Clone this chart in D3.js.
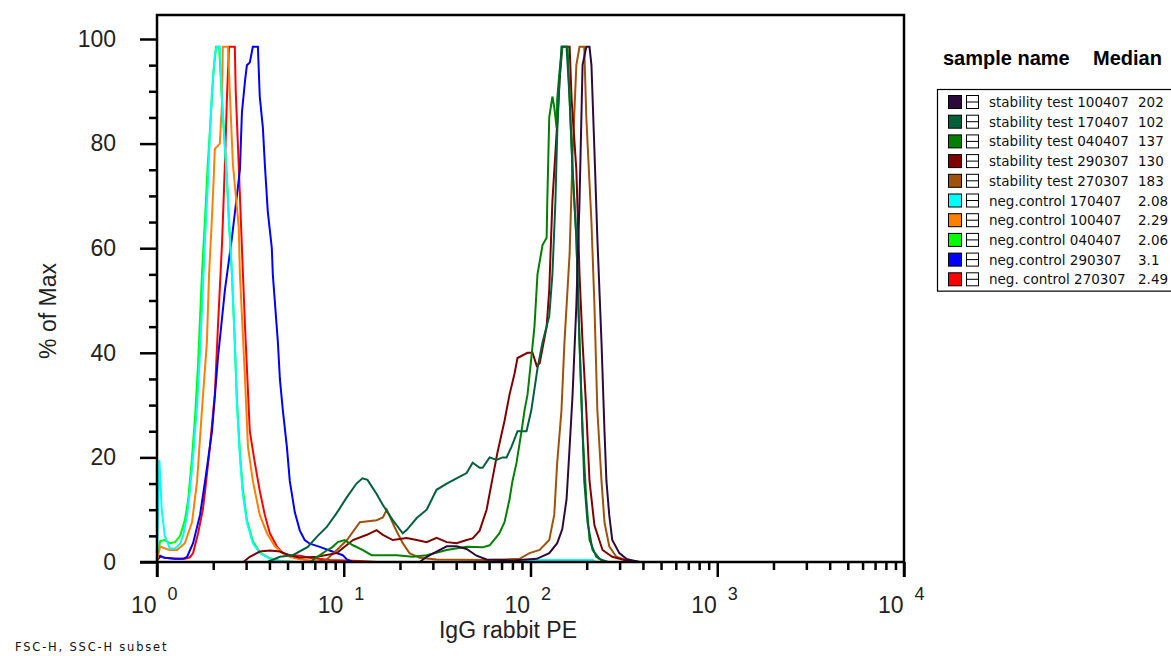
<!DOCTYPE html>
<html>
<head>
<meta charset="utf-8">
<script src="https://cdn.jsdelivr.net/npm/d3@7/dist/d3.min.js"></script>
<style>
body { margin: 0; background: #fff; }
svg { display: block; }
</style>
</head>
<body>
<script>
// legend rows, top to bottom (top row is drawn last, on top)
var sampleNames = ['stability test 100407', 'stability test 170407', 'stability test 040407',
    'stability test 290307', 'stability test 270307', 'neg.control 170407', 'neg.control 100407',
    'neg.control 040407', 'neg.control 290307', 'neg. control 270307'];
var medians = ['202', '102', '137', '130', '183', '2.08', '2.29', '2.06', '3.1', '2.49'];
var colors = ['#2e0a3c', '#00603c', '#008000', '#800000', '#a0520a',
    '#00ffff', '#ff8000', '#00ff00', '#0000ff', '#ff0000'];

var yTicks = [0, 20, 40, 60, 80, 100];
var yMinor = [5, 10, 15, 25, 30, 35, 45, 50, 55, 65, 70, 75, 85, 90, 95];
var xTicks = [1, 10, 100, 1000, 10000];
var xExponents = ['0', '1', '2', '3', '4'];

// [IgG rabbit PE, % of Max]
var stab100407 = [[1,0],[25.5,0],[27.8,1],[31.4,2],[35.6,3],[40.2,3],[45.5,2.5],[51.4,1.2],[58.2,0.5],[80,0.3],
    [108,0.6],[126,1.7],[139,3.6],[148,6.3],[156,12],[162,22],[168,32],[176,49],[183,69],[190,95],[199,98.5],
    [207,98.5],[212,95],[220,78.6],[228,62],[240,42],[249,25],[255,15.5],[264,9],[274,4.2],[299,1.7],[326,0.6],
    [383,0],[10000,0]];
var stab170407 = [[1,0],[3.9,0],[4.55,1],[5.34,1.3],[6.42,2.9],[7.17,4.8],[8.11,6.7],[9.18,9.4],[10.4,12.4],
    [11.7,15],[12.6,16],[13.4,15.7],[15,13],[16.2,10.9],[18.3,8],[20.7,5.5],[21.7,6.1],[24.6,8.4],[27.8,10],
    [31.4,13.8],[35.6,15],[40.2,16],[45.5,17],[49,19],[53.4,18],[55.4,18],[60.4,20],[65.8,19.5],[70.8,20],
    [74.4,20],[79.1,22],[85.2,25],[95.2,25],[101,29],[109,37],[116,42],[126,47],[131,55],[136,69],[139,82],
    [143,92],[146.5,98.5],[156,98.5],[162,88.5],[168,75],[176,62],[183,42],[190,25],[194,15.5],[202,7.6],
    [215,2.3],[234,0.6],[260,0],[10000,0]];
var stab040407 = [[1,0],[6.6,0],[7.72,1.7],[8.11,2.2],[8.73,2.9],[9.29,3.8],[10.1,4.2],[11.2,3.2],[12.6,2.3],
    [14.1,1.3],[19.2,1.3],[23.4,1],[27.8,1.3],[35.6,2.3],[45.5,2.9],[55.4,2.8],[60.4,3.2],[65.8,4.8],[68.2,5.5],
    [72.6,7.6],[77.2,12],[80.1,15.5],[84.2,19],[89.5,25],[92.9,29],[96.4,32],[101,39],[105,45],[109,55],
    [116,60.6],[122,62],[123,69],[126,85],[131,89],[134,87],[138,83],[139,88.5],[143,93.7],[148,98.5],
    [158,98.5],[162,88.5],[168,75],[176,62],[183,42],[190,25],[199,12],[207,4.2],[225,1],[249,0],[10000,0]];
var stab290307 = [[1,0],[2.9,0],[3.14,1],[3.55,2],[4.02,2.2],[4.55,2],[5.02,1.4],[5.82,0.8],[7.17,1],[9.18,1.7],
    [11.2,4.2],[13.3,5.2],[15,6.1],[16.2,5.2],[18.3,4.2],[21.7,4.6],[24.6,4.2],[27.8,3.8],[31.4,4.6],[35.6,3.8],
    [40.2,3.6],[45.5,4.2],[49,4.5],[53.4,6],[58.2,10],[62.6,16],[66.6,21],[72.6,27],[77.2,32],[82.1,36],
    [85.2,39],[96.4,40],[102.5,40],[108,37.5],[112,38],[122,45],[126,52],[131,69],[138,82],[143,92],[148,98.5],
    [162,98.5],[166,88.5],[176,75],[183,55],[190,42],[199,29],[207,15.5],[220,7],[243,2.3],[274,1],[326,0.3],
    [383,0],[10000,0]];
var stab270307 = [[1,0],[7.2,0],[8.11,0.5],[9.18,2.3],[10.4,4.2],[12.2,7.6],[15,8],[16.2,8.5],[17,10],[18.7,6.7],
    [20.7,3.6],[22.5,1.7],[25.5,0.8],[31.4,0.5],[60,0.4],[87.3,0.6],[98.8,1.7],[112,2.3],[126,4.2],[134,9],
    [139,19],[146.5,29],[152,42],[162,59],[168,78],[176,95],[183,98.5],[194,98.5],[199,85],[212,65],[220,49],
    [228,29],[240,15.5],[249,7.6],[264,3],[288,1],[326,0.3],[383,0],[10000,0]];
var neg170407 = [[1,0.5],[1.03,19.5],[1.06,10],[1.10,5],[1.145,3.5],[1.17,2.6],[1.25,2.6],[1.33,3.5],[1.38,5],
    [1.45,9],[1.50,13.6],[1.56,20],[1.64,30],[1.70,40],[1.76,52],[1.81,62],[1.87,72],[1.92,82],[1.97,90],
    [2.04,97],[2.09,98.5],[2.17,98.5],[2.23,88],[2.37,73],[2.43,65],[2.52,55],[2.61,42],[2.68,30],[2.78,20],
    [2.88,13],[3.03,7.6],[3.26,3.6],[3.55,1.7],[4.02,0.6],[4.55,0.2],[5.5,0],[92,0],[95,0.4],[215,0.4],
    [225,0],[10000,0]];
var neg100407 = [[1,0.3],[1.04,3],[1.10,2.6],[1.17,2.3],[1.28,2.3],[1.35,3],[1.41,3.6],[1.54,7.6],[1.64,15.5],
    [1.74,29],[1.85,42],[1.90,55],[1.97,66],[2.01,73],[2.04,79],[2.17,80],[2.23,88],[2.25,98.5],[2.40,98.5],
    [2.46,89],[2.55,76],[2.74,64],[2.78,55],[2.96,35],[3.07,22],[3.26,15.5],[3.55,9],[3.88,5.5],[4.28,3],
    [4.72,1.7],[5.14,1],[5.82,0.5],[7.17,0.2],[9,0],[10000,0]];
var neg040407 = [[1,0.5],[1.04,4],[1.10,4.2],[1.17,3.6],[1.25,3.8],[1.33,5],[1.41,8],[1.47,12],[1.54,20],
    [1.60,28],[1.66,38],[1.74,55],[1.81,66],[1.87,76],[1.94,85],[2.0,93],[2.07,98.5],[2.15,98.5],[2.23,88],
    [2.37,73],[2.43,65],[2.52,55],[2.61,42],[2.68,31],[2.78,21],[2.88,14],[3.03,8],[3.26,4],[3.55,1.8],
    [4.02,0.7],[4.55,0.2],[5.5,0],[10000,0]];
var neg290307 = [[1,0.3],[1.04,1.2],[1.10,0.8],[1.25,0.6],[1.38,0.6],[1.45,1],[1.56,3.6],[1.70,9],[1.81,15.5],
    [1.97,25],[2.12,39],[2.31,52],[2.52,62],[2.78,75],[2.85,86],[2.96,92],[3.03,95],[3.14,95.5],[3.26,98.5],
    [3.47,98.5],[3.55,89],[3.69,83],[3.78,76],[3.92,67],[4.12,60],[4.17,55],[4.44,42],[4.55,35],[4.72,29],
    [4.96,22],[5.14,15.5],[5.47,9.5],[5.82,6],[6.18,4.2],[6.58,3.5],[7.44,2.9],[8.4,2.2],[9.88,1.3],
    [10.4,0.5],[11.2,0],[10000,0]];
var neg270307 = [[1,0.3],[1.04,1],[1.10,0.8],[1.25,0.6],[1.41,0.6],[1.50,0.9],[1.56,1.7],[1.66,5.5],[1.76,10],
    [1.81,13.6],[1.92,22],[2.04,32],[2.12,45],[2.23,61],[2.31,76],[2.37,89],[2.43,98.5],[2.61,98.5],[2.64,90],
    [2.71,80],[2.78,70],[2.85,60],[2.96,45],[3.14,25],[3.34,19],[3.55,13.6],[3.78,9],[4.02,5.5],[4.38,3],
    [4.72,1.7],[5.14,1.3],[5.82,1.2],[6.58,0.8],[8.4,0.4],[12.2,0.2],[15,0],[10000,0]];

var series = [stab100407, stab170407, stab040407, stab290307, stab270307,
    neg170407, neg100407, neg040407, neg290307, neg270307];

var width = 1171,
    height = 656;
var plotLeft = 157,
    plotRight = 904,
    plotTop = 15,
    tickBottom = 577;

var svg = d3.select('body')
    .append('svg')
    .attr('width', width)
    .attr('height', height);

svg.append('rect')
    .attr('width', width)
    .attr('height', height)
    .attr('fill', '#fff');

var x = d3.scaleLog()
    .domain([1, 10000])
    .range([plotLeft, plotRight]);

var y = d3.scaleLinear()
    .domain([0, 100])
    .range([562, 39]);

var axisFont = 'Liberation Sans, Arial, sans-serif';

// curves, bottom legend row first so the top row ends up on top
var line = d3.line()
    .x(function(d) { return x(d[0]); })
    .y(function(d) { return y(d[1]); });

svg.append('g')
    .selectAll('path')
    .data(series.slice().reverse())
    .enter()
    .append('path')
    .attr('d', line)
    .attr('fill', 'none')
    .attr('stroke', function(d, i) { return colors[colors.length - 1 - i]; })
    .attr('stroke-width', 2)
    .attr('stroke-linejoin', 'miter');

// y axis
var gyMinor = svg.append('g')
    .attr('transform', 'translate(' + plotLeft + ',0)')
    .call(d3.axisLeft(y).tickValues(yMinor).tickSize(8).tickSizeOuter(0).tickFormat(''));
gyMinor.select('.domain').remove();

var gy = svg.append('g')
    .attr('transform', 'translate(' + plotLeft + ',0)')
    .call(d3.axisLeft(y).tickValues(yTicks).tickSize(17).tickPadding(24).tickSizeOuter(0));
gy.select('.domain').remove();
gy.attr('font-size', 23).attr('font-family', axisFont);
gy.selectAll('text').attr('fill', '#222');

// x axis
var xMinor = [];
[1, 10, 100, 1000].forEach(function(dec) {
    for (var k = 2; k < 10; k++) xMinor.push(k * dec);
});

var gxMinor = svg.append('g')
    .attr('transform', 'translate(0,' + y(0) + ')')
    .call(d3.axisBottom(x).tickValues(xMinor).tickSize(8).tickSizeOuter(0).tickFormat(''));
gxMinor.select('.domain').remove();

var gx = svg.append('g')
    .attr('transform', 'translate(0,' + y(0) + ')')
    .call(d3.axisBottom(x).tickValues(xTicks).tickSize(15).tickSizeOuter(0).tickFormat(''));
gx.select('.domain').remove();

gx.selectAll('.tick')
    .append('text')
    .attr('x', -1)
    .attr('y', 51)
    .attr('text-anchor', 'end')
    .attr('font-family', axisFont)
    .attr('font-size', 23)
    .attr('fill', '#222')
    .text('10');

gx.selectAll('.tick')
    .append('text')
    .attr('x', 10)
    .attr('y', 38)
    .attr('text-anchor', 'start')
    .attr('font-family', axisFont)
    .attr('font-size', 18)
    .attr('fill', '#222')
    .text(function(d, i) { return xExponents[i]; });

svg.selectAll('.tick line')
    .attr('stroke', '#000')
    .attr('stroke-width', 2.5);

// frame
svg.append('path')
    .attr('d', 'M' + plotLeft + ',' + tickBottom + 'V' + plotTop + 'H' + plotRight + 'V' + tickBottom)
    .attr('fill', 'none')
    .attr('stroke', '#000')
    .attr('stroke-width', 2.5);
svg.append('path')
    .attr('d', 'M140,' + y(0) + 'H' + plotRight)
    .attr('fill', 'none')
    .attr('stroke', '#000')
    .attr('stroke-width', 2.5);

// axis titles
svg.append('text')
    .attr('transform', 'translate(56,311) rotate(-90)')
    .attr('text-anchor', 'middle')
    .attr('font-family', axisFont)
    .attr('font-size', 23)
    .attr('fill', '#222')
    .text('% of Max');

svg.append('text')
    .attr('x', 508)
    .attr('y', 638)
    .attr('text-anchor', 'middle')
    .attr('font-family', axisFont)
    .attr('font-size', 23)
    .attr('fill', '#222')
    .text('IgG rabbit PE');

svg.append('text')
    .attr('x', 15)
    .attr('y', 651)
    .attr('font-family', 'DejaVu Sans, sans-serif')
    .attr('font-size', 11.5)
    .attr('letter-spacing', 1.8)
    .attr('fill', '#111')
    .text('FSC-H, SSC-H subset');

// legend
svg.append('text')
    .attr('x', 943)
    .attr('y', 65)
    .attr('font-family', axisFont)
    .attr('font-weight', 'bold')
    .attr('font-size', 20)
    .text('sample name');
svg.append('text')
    .attr('x', 1093)
    .attr('y', 65)
    .attr('font-family', axisFont)
    .attr('font-weight', 'bold')
    .attr('font-size', 20)
    .text('Median');

var rowH = 19.7,
    row0 = 102;

svg.append('rect')
    .attr('x', 937.5)
    .attr('y', 89.5)
    .attr('width', 260)
    .attr('height', row0 + rowH * 9.5 + 2 - 89.5)
    .attr('fill', '#fff')
    .attr('stroke', '#000')
    .attr('stroke-width', 1.2);

var rows = svg.append('g')
    .selectAll('g')
    .data(sampleNames)
    .enter()
    .append('g')
    .attr('transform', function(d, i) { return 'translate(0,' + (row0 + i * rowH) + ')'; });

rows.append('rect')
    .attr('x', 948.5)
    .attr('y', -6.5)
    .attr('width', 13)
    .attr('height', 13)
    .attr('fill', function(d, i) { return colors[i]; })
    .attr('stroke', '#000')
    .attr('stroke-width', 1);

rows.append('rect')
    .attr('x', 966.5)
    .attr('y', -6.5)
    .attr('width', 12)
    .attr('height', 13)
    .attr('fill', '#fff')
    .attr('stroke', '#000')
    .attr('stroke-width', 1);

rows.append('line')
    .attr('x1', 966.5)
    .attr('x2', 978.5)
    .attr('y1', 0)
    .attr('y2', 0)
    .attr('stroke', '#000')
    .attr('stroke-width', 1);

rows.append('text')
    .attr('x', 989)
    .attr('y', 5)
    .attr('font-family', 'DejaVu Sans, sans-serif')
    .attr('font-size', 13.5)
    .attr('fill', '#111')
    .text(function(d) { return d; });

rows.append('text')
    .attr('x', 1138)
    .attr('y', 5)
    .attr('font-family', 'DejaVu Sans, sans-serif')
    .attr('font-size', 13.5)
    .attr('fill', '#111')
    .text(function(d, i) { return medians[i]; });
</script>
</body>
</html>
